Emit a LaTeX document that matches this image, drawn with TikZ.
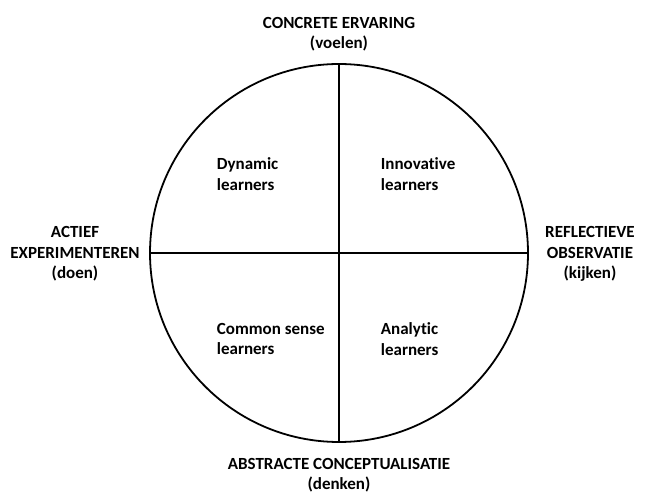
\documentclass[tikz,border=0pt]{standalone}
\usepackage{fontspec}
\setmainfont{Carlito}[Ligatures=NoCommon]
\usetikzlibrary{positioning}

\begin{document}
\begin{tikzpicture}[%
		x=1pt,
		y=-1pt,
		line width=1.8pt,
		node distance=6pt,
		pole/.style={%
			font=\bfseries\fontsize{17}{20.5}\selectfont,
			align=center,
			inner sep=0pt
		},
		style/.style={%
			font=\bfseries\fontsize{17}{20.5}\selectfont,
			align=left,
			anchor=west,
			inner sep=0pt
		}
		]
		\useasboundingbox (0,0) rectangle (649,494);
		\node[circle, draw, minimum size=378pt, inner sep=0pt] (wheel) at (339,253) {};
		\draw (wheel.north) -- (wheel.south);
		\draw (wheel.west) -- (wheel.east);
		
		\node[pole] (concrete) at (339,34)  {CONCRETE ERVARING\\(voelen)};
		\node[pole] (abstract) at (339,475) {ABSTRACTE CONCEPTUALISATIE\\(denken)};
		\node[pole] (actief)   at (75,254)  {ACTIEF\\EXPERIMENTEREN\\(doen)};
		\node[pole] (reflect)  at (590,254) {REFLECTIEVE\\OBSERVATIE\\(kijken)};
		
		\node[style] (dynamic)    at (216,174) {Dynamic\\learners};
		\node[style] (innovative) at (380,174) {Innovative\\learners};
		\node[style] (common)     at (216,339) {Common sense\\learners};
		\node[style] (analytic)   at (380,339) {Analytic\\learners};
		\end{tikzpicture}
\end{document}
